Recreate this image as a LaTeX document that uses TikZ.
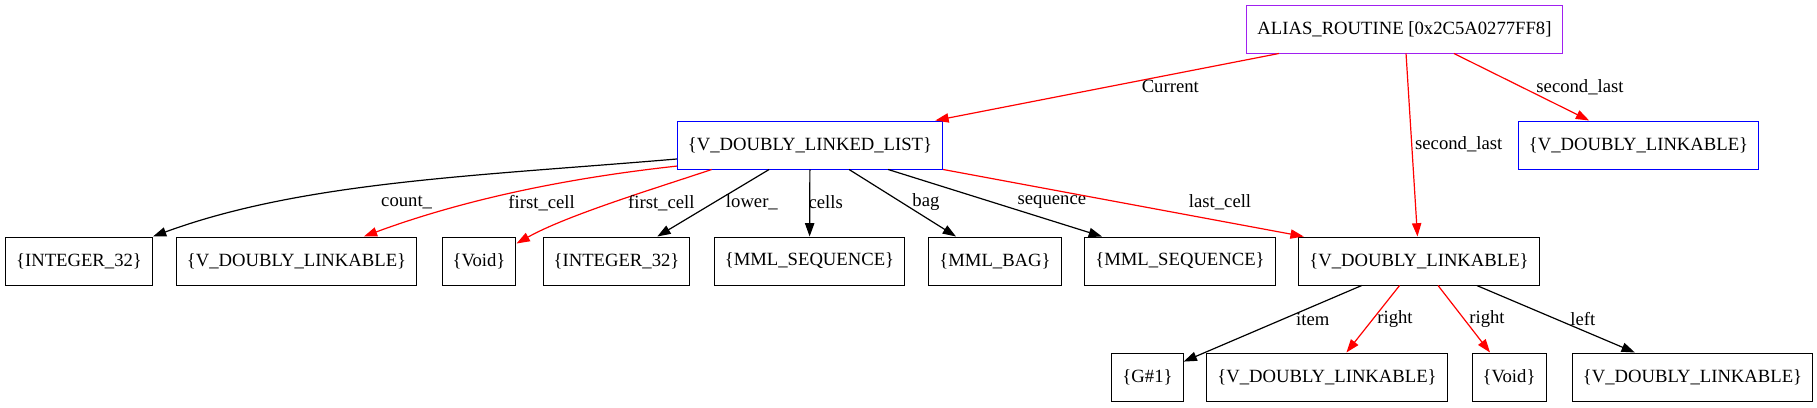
\documentclass[tikz,border=0pt]{standalone}
\usepackage{fontspec}
\setmainfont{Liberation Serif}
\definecolor{objpurple}{RGB}{160, 32, 240}
\definecolor{objblue}{RGB}{0, 0, 255}
\definecolor{refred}{RGB}{255, 0, 0}
\usetikzlibrary{arrows.meta}
\tikzset{
	obj/.style={rectangle, draw=black, fill=white, line width=1pt, align=center, inner xsep=10.56pt, inner ysep=0pt, minimum height=48pt, font=\fontsize{18.67}{22}\selectfont},
	rootobj/.style={obj, draw=objpurple},
	blueobj/.style={obj, draw=objblue},
	arrow/.style={-{Triangle[length=13.3pt, width=9.3pt]}, line width=1.2pt, draw=black},
	redarrow/.style={arrow, draw=refred},
	elabel/.style={inner sep=0pt, font=\fontsize{18.67}{22}\selectfont},
}

\begin{document}
\begin{tikzpicture}[x=1pt, y=-1pt]
		\useasboundingbox (0,0) rectangle (1817,407);
		\node[rootobj] (alias) at (1404.5,29) {ALIAS\_ROUTINE [0x2C5A0277FF8]};
		\node[blueobj] (list) at (810,145) {\{V\_DOUBLY\_LINKED\_LIST\}};
		\node[blueobj] (secl) at (1638.5,145) {\{V\_DOUBLY\_LINKABLE\}};
		% fields of the list
		\node[obj] (count) at (79,261) {\{INTEGER\_32\}};
		\node[obj] (first) at (296.5,261) {\{V\_DOUBLY\_LINKABLE\}};
		\node[obj] (firstv) at (479,261) {\{Void\}};
		\node[obj] (lower) at (616.5,261) {\{INTEGER\_32\}};
		\node[obj] (cells) at (809.5,261) {\{MML\_SEQUENCE\}};
		\node[obj] (bag) at (995,261) {\{MML\_BAG\}};
		\node[obj] (seq) at (1180,261) {\{MML\_SEQUENCE\}};
		\node[obj] (last) at (1419,261) {\{V\_DOUBLY\_LINKABLE\}};
		% fields of the last cell
		\node[obj] (item) at (1147.5,377) {\{G\#1\}};
		\node[obj] (rgt) at (1327,377) {\{V\_DOUBLY\_LINKABLE\}};
		\node[obj] (rgtv) at (1509,377) {\{Void\}};
		\node[obj] (lft) at (1692.5,377) {\{V\_DOUBLY\_LINKABLE\}};

		\draw[redarrow] (alias) -- (list) node[elabel, pos=0.485, xshift=58pt] {Current};
		\draw[redarrow] (alias) -- (last) node[elabel, pos=0.495, xshift=47pt] {second\_last};
		\draw[redarrow] (alias) -- (secl) node[elabel, pos=0.496, xshift=59pt] {second\_last};

		\draw[arrow] (list.186) .. controls +(-200,17) and +(150,-55) .. (count.north east) node[elabel, pos=0.48, yshift=-20pt] {count\_};
		\draw[redarrow] (list.189) .. controls +(-110,12) and +(100,-37) .. (first.20) node[elabel, pos=0.42, yshift=-16pt] {first\_cell};
		\draw[redarrow] (list.194) .. controls +(-60,20) and +(50,-28) .. (firstv.25) node[elabel, pos=0.5, xshift=51pt] {first\_cell};
		\draw[arrow] (list) -- (lower) node[elabel, pos=0.485, xshift=37pt] {lower\_};
		\draw[arrow] (list) -- (cells) node[elabel, pos=0.485, xshift=16pt] {cells};
		\draw[arrow] (list) -- (bag) node[elabel, pos=0.485, xshift=25pt] {bag};
		\draw[arrow] (list) -- (seq) node[elabel, pos=0.485, xshift=60pt] {sequence};
		\draw[redarrow] (list.south east) -- (last.168) node[elabel, pos=0.485, xshift=102pt] {last\_cell};

		\draw[arrow] (last) -- (item) node[elabel, pos=0.443, xshift=30pt] {item};
		\draw[redarrow] (last) -- (rgt) node[elabel, pos=0.5, xshift=22pt] {right};
		\draw[redarrow] (last) -- (rgtv) node[elabel, pos=0.5, xshift=23pt] {right};
		\draw[arrow] (last) -- (lft) node[elabel, pos=0.5, xshift=27pt] {left};
	\end{tikzpicture}
\end{document}
